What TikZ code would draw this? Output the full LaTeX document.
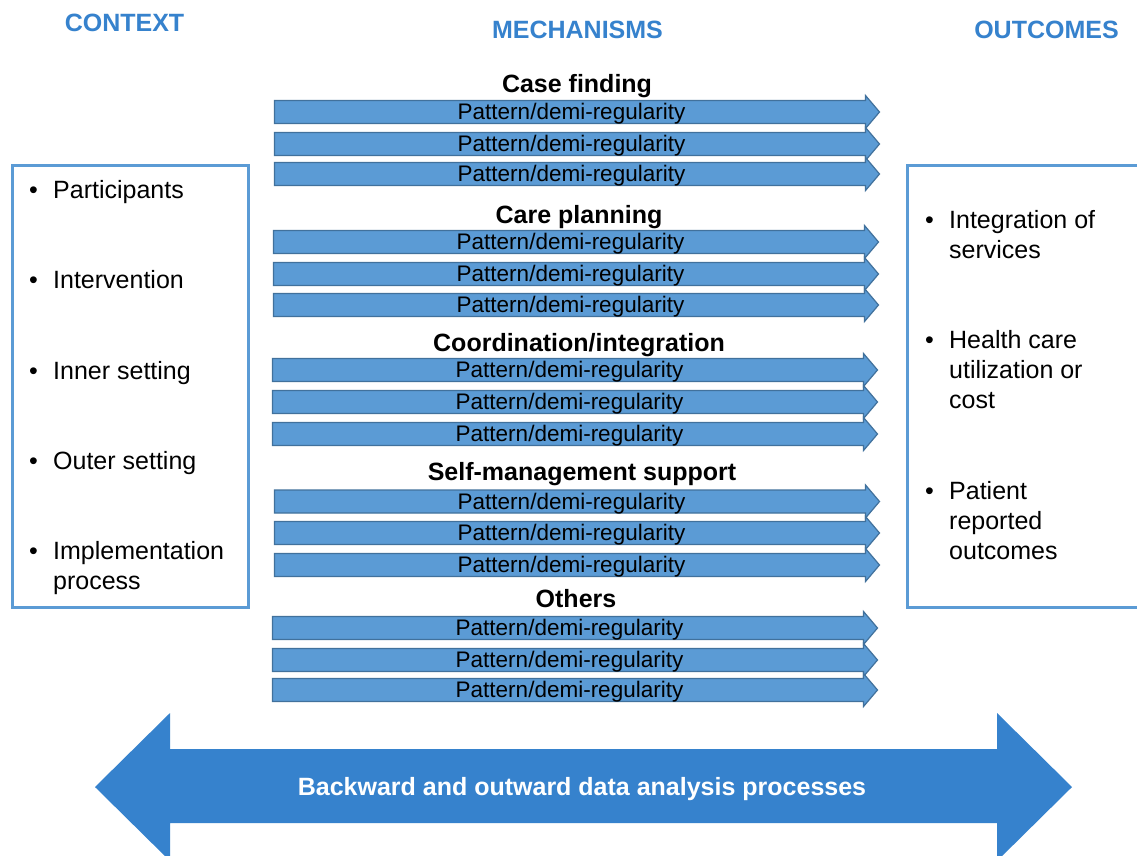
\documentclass[tikz,border=0pt]{standalone}
\usepackage{fontspec}
\setmainfont{Liberation Sans}
\definecolor{headblue}{RGB}{54,130,205}
\definecolor{arrfill}{RGB}{91,155,213}
\definecolor{arrline}{RGB}{65,113,156}
\definecolor{boxline}{RGB}{91,155,213}
\tikzset{
  patshape/.style={draw=arrline, line width=1.2pt, fill=arrfill, line join=miter},
  pattext/.style={anchor=base, inner sep=0pt, font=\fontsize{22.5}{27}\selectfont},
  grouphead/.style={anchor=base, inner sep=0pt, font=\fontsize{25}{30}\selectfont\bfseries},
  colhead/.style={anchor=base, inner sep=0pt, text=headblue, font=\fontsize{25}{30}\selectfont\bfseries},
  itembox/.style={draw=boxline, line width=3pt},
  item/.style={anchor=base west, inner sep=0pt, font=\fontsize{25}{30}\selectfont, align=left},
  bigarrow/.style={fill=headblue, draw=none},
  bigtext/.style={anchor=base, inner sep=0pt, text=white, font=\fontsize{25}{30}\selectfont\bfseries}
}
\newcommand{\patarrow}[3]{%
  \draw[patshape] (#2,#3-11.5) -- (#2+591,#3-11.5) -- (#2+591,#3-16.5) -- (#2+605,#3) -- (#2+591,#3+16.5) -- (#2+591,#3+11.5) -- (#2,#3+11.5) -- cycle;
  \node[pattext] (#1) at (#2+297,#3+7.5) {Pattern/demi-regularity};
}
\newcommand{\bulitem}[1]{\makebox[24pt][l]{\textbullet}\parbox[t]{200pt}{\raggedright #1}}
\begin{document}
\begin{tikzpicture}[x=1pt,y=-1pt]
\useasboundingbox (0,0) rectangle (1137,855);
\clip (0,0) rectangle (1137,855);
\fill[white] (0,0) rectangle (1137,855);

% column headings
\node[colhead] (context) at (124.5,31) {CONTEXT};
\node[colhead] (mechanisms) at (577.5,38) {MECHANISMS};
\node[colhead] (outcomes) at (1046.5,38) {OUTCOMES};

% context box
\draw[itembox] (12,165) rectangle (248,607);
\node[item] (c1) at (29,198) {\bulitem{Participants}};
\node[item] (c2) at (29,288) {\bulitem{Intervention}};
\node[item] (c3) at (29,379) {\bulitem{Inner setting}};
\node[item] (c4) at (29,469) {\bulitem{Outer setting}};
\node[item] (c5) at (29,559) {\bulitem{Implementation\\process}};

% outcomes box
\draw[itembox] (907,165) rectangle (1150,607);
\node[item] (o1) at (925,228) {\bulitem{Integration of\\services}};
\node[item] (o2) at (925,348) {\bulitem{Health care\\utilization or\\cost}};
\node[item] (o3) at (925,499) {\bulitem{Patient\\reported\\outcomes}};

% mechanisms
\node[grouphead] (g1) at (577,92) {Case finding};
\patarrow{a11}{274.5}{112}
\patarrow{a12}{274.5}{144}
\patarrow{a13}{274.5}{174}

\node[grouphead] (g2) at (579,223) {Care planning};
\patarrow{a21}{273.5}{242}
\patarrow{a22}{273.5}{274}
\patarrow{a23}{273.5}{305}

\node[grouphead] (g3) at (579,351) {Coordination/integration};
\patarrow{a31}{272.5}{370}
\patarrow{a32}{272.5}{402}
\patarrow{a33}{272.5}{434}

\node[grouphead] (g4) at (582,480) {Self-management support};
\patarrow{a41}{274.5}{501.5}
\patarrow{a42}{274.5}{533}
\patarrow{a43}{274.5}{565}

\node[grouphead] (g5) at (576,607) {Others};
\patarrow{a51}{272.5}{628}
\patarrow{a52}{272.5}{660}
\patarrow{a53}{272.5}{690}

% big double arrow
\fill[bigarrow] (95,787) -- (170,713) -- (170,749) -- (997,749) -- (997,713) -- (1072,787) -- (997,861) -- (997,823) -- (170,823) -- (170,861) -- cycle;
\node[bigtext] (backward) at (582,795) {Backward and outward data analysis processes};
\end{tikzpicture}
\end{document}
